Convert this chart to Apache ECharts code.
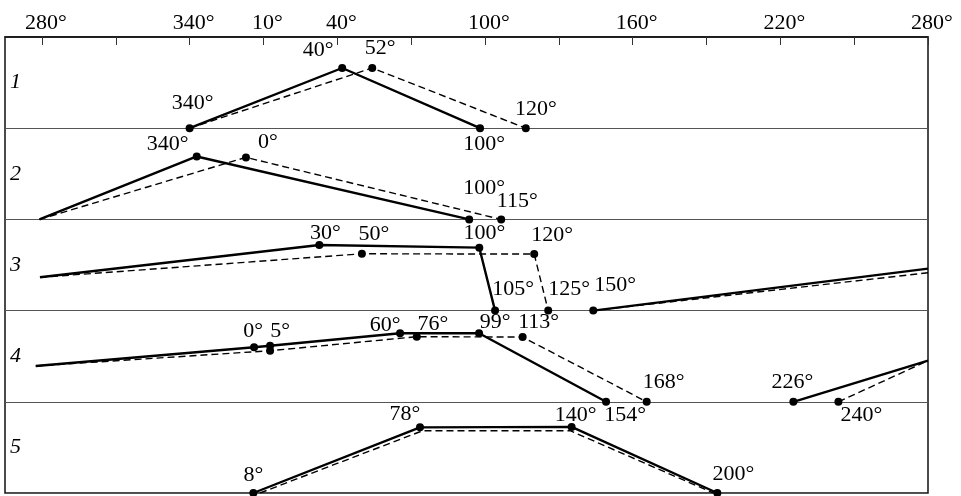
<!DOCTYPE html>
<html>
<head>
<meta charset="utf-8">
<script src="https://cdn.jsdelivr.net/npm/echarts@6/dist/echarts.min.js"></script>
<style>html,body{margin:0;padding:0;background:#fff}#c{width:961px;height:496px}</style>
</head>
<body>
<div id="c"></div>
<script>
// ---- data ----
const xMin = 265, xMax = 640;
const tickValues = [280, 310, 340, 370, 400, 430, 460, 490, 520, 550, 580, 610, 640];
const labelValues = [280, 340, 370, 400, 460, 520, 580, 640];
const rowLabels = ['1', '2', '3', '4', '5'];

const r1Solid  = [[340, 1], [402, 0.34], [458, 1]];
const r1Dashed = [[340, 1], [414.2, 0.34], [476.6, 1]];
const r2Solid  = [[279, 2], [342.9, 1.31], [453.6, 2]];
const r2Dashed = [[279, 2], [362.9, 1.32], [466.6, 2]];
const r3SolidA  = [[279.2, 2.635], [392.7, 2.281], [457.7, 2.31], [464.1, 3]];
const r3SolidB  = [[504, 3], [640, 2.54]];
const r3DashedA = [[279.2, 2.635], [410, 2.377], [480, 2.38], [485.7, 3]];
const r3DashedB = [[504, 3], [640, 2.585]];
const r4SolidA  = [[277.5, 3.607], [366.2, 3.402], [372.7, 3.385], [425.5, 3.249], [457.6, 3.249], [509.2, 4]];
const r4SolidB  = [[585.3, 4], [640, 3.549]];
const r4DashedA = [[277.5, 3.607], [372.7, 3.44], [432.3, 3.286], [475.3, 3.29], [525.7, 4]];
const r4DashedB = [[603.6, 4], [640, 3.549]];
const r5Solid  = [[365.9, 5], [433.6, 4.28], [495.2, 4.275], [554.4, 5]];
const r5Dashed = [[368.6, 5], [434.7, 4.317], [494.6, 4.317], [552.8, 5]];

const pointValues = [
  [340, 1], [402, 0.34], [414.2, 0.34], [458, 1], [476.6, 1],
  [342.9, 1.31], [362.9, 1.32], [453.6, 2], [466.6, 2],
  [392.7, 2.281], [410, 2.377], [457.7, 2.31], [480, 2.38], [464.1, 3], [485.7, 3], [504, 3],
  [366.2, 3.402], [372.7, 3.385], [372.7, 3.44], [425.5, 3.249], [432.3, 3.286], [457.6, 3.249], [475.3, 3.29],
  [509.2, 4], [525.7, 4], [585.3, 4], [603.6, 4],
  [433.6, 4.28], [495.2, 4.275], [365.9, 5], [554.4, 5]
];
const pointLabels = [
  '340°', '40°', '52°', '100°', '120°',
  '340°', '0°', '100°', '115°',
  '30°', '50°', '100°', '120°', '105°', '125°', '150°',
  '0°', '5°', '', '60°', '76°', '99°', '113°',
  '154°', '168°', '226°', '240°',
  '78°', '140°', '8°', '200°'
];

// ---- layout (label offsets in px, not data) ----
const labelOffsets = [
  [3, -25], [-24, -18], [8, -20], [4, 16], [10, -19],
  [-29, -12], [22, -15], [15, -31], [16, -18],
  [6, -12], [12, -20], [5, -14], [18, -19], [18, -21], [21, -21], [22, -25],
  [-1, -16], [10, -14], [0, 0], [-15, -8], [16, -12], [16, -11], [16, -15],
  [19, 13], [17, -20], [-1, -20], [23, 13],
  [-15, -13], [4, -12], [0, -18], [16, -19]
];

const FONT = '"Liberation Serif", "Times New Roman", serif';
const INK = '#000';

function solid(data) {
  return { type: 'line', data: data, symbol: 'none', silent: true, z: 3,
    lineStyle: { color: INK, width: 2.4, type: 'solid' } };
}
function dashed(data) {
  return { type: 'line', data: data, symbol: 'none', silent: true, z: 2,
    lineStyle: { color: INK, width: 1.4, type: [7, 4] } };
}

const chart = echarts.init(document.getElementById('c'), null, { renderer: 'canvas' });
chart.setOption({
  backgroundColor: '#fff',
  animation: false,
  grid: { left: 5, right: 33, top: 37, bottom: 3, show: true, borderColor: '#111', borderWidth: 1.5,
    containLabel: false, outerBoundsMode: 'none' },
  xAxis: {
    type: 'value', position: 'top', min: xMin, max: xMax,
    axisLine: { show: true, lineStyle: { color: '#111', width: 1.5 } },
    axisTick: { show: true, inside: true, length: 8, customValues: tickValues, lineStyle: { color: '#333', width: 1 } },
    axisLabel: { show: true, customValues: labelValues, margin: 3, padding: [0, 0, 0, 8],
      fontFamily: FONT, fontSize: 22, color: '#000',
      formatter: function (v) { return (v % 360) + '°'; } },
    splitLine: { show: false }
  },
  yAxis: [
    { type: 'value', min: 0, max: 5, interval: 1, inverse: true,
      axisLine: { show: false }, axisTick: { show: false }, axisLabel: { show: false },
      splitLine: { show: true, lineStyle: { color: '#555', width: 1.2 } } },
    { type: 'category', data: rowLabels, inverse: true, position: 'left',
      axisLine: { show: false }, axisTick: { show: false }, splitLine: { show: false },
      axisLabel: { inside: true, margin: 5, fontFamily: FONT, fontStyle: 'italic', fontSize: 22, color: '#000' } }
  ],
  series: [
    solid(r1Solid), dashed(r1Dashed),
    solid(r2Solid), dashed(r2Dashed),
    solid(r3SolidA), solid(r3SolidB), dashed(r3DashedA), dashed(r3DashedB),
    solid(r4SolidA), solid(r4SolidB), dashed(r4DashedA), dashed(r4DashedB),
    solid(r5Solid), dashed(r5Dashed),
    {
      type: 'scatter', z: 5, clip: false, symbolSize: 8, silent: true,
      itemStyle: { color: INK, opacity: 1 },
      data: pointValues.map(function (p, i) {
        return { value: p, name: pointLabels[i],
          label: { show: pointLabels[i] !== '', position: 'inside', offset: labelOffsets[i],
            formatter: '{b}', fontFamily: FONT, fontSize: 22, color: '#000' } };
      })
    }
  ]
});
</script>
</body>
</html>
